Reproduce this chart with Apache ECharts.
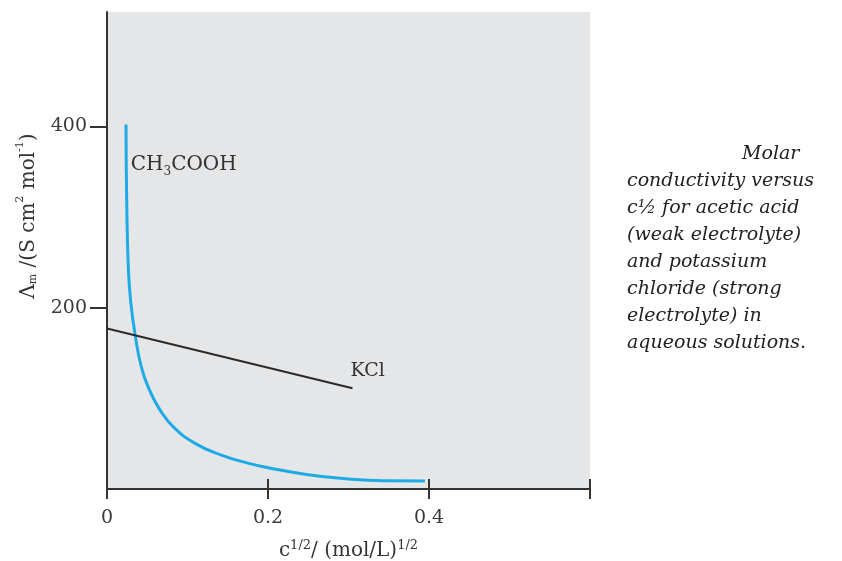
<!DOCTYPE html>
<html><head><meta charset="utf-8">
<script src="https://cdn.jsdelivr.net/npm/echarts@6/dist/echarts.min.js"></script>
<style>html,body{margin:0;padding:0;background:#fff}#c{width:842px;height:561px}</style>
</head><body><div id="c"></div>
<script>
// CH3COOH (weak electrolyte) curve
const acidX = [0.0236, 0.0245, 0.0265, 0.0294, 0.0348, 0.0431, 0.0534, 0.066, 0.083, 0.11, 0.143, 0.175, 0.2, 0.25, 0.30, 0.343, 0.395];
const acidY = [402, 317, 244, 207, 171, 133, 108, 87, 68, 50, 37, 28.5, 23.5, 15.8, 11, 9, 8.8];
// KCl (strong electrolyte) straight line
const kclX = [0, 0.305];
const kclY = [177, 111];
// axis ticks / labels
const xTicks = [0, 0.2, 0.4, 0.6];
const xLabels = [0, 0.2, 0.4];
const yTicks = [200, 400];
const captionLines = ['Molar', 'conductivity versus', 'c\u00BD for acetic acid', '(weak electrolyte)', 'and potassium', 'chloride (strong', 'electrolyte) in', 'aqueous solutions.'];

const serif = '"DejaVu Serif", serif';
const chart = echarts.init(document.getElementById('c'), null, {renderer: 'canvas'});

const captionGraphics = captionLines.map((t, i) => ({
  type: 'text',
  left: i === 0 ? 742 : 627,
  top: 145 + i * 27,
  style: {text: t, font: 'italic 19px "DejaVu Serif", serif', fill: '#222'}
}));

chart.setOption({
  backgroundColor: '#fff',
  animation: false,
  grid: {left: 107, right: 252, top: 12, bottom: 72, show: true, backgroundColor: '#e5e6e8', borderWidth: 0, containLabel: false, outerBoundsMode: 'none'},
  xAxis: [{
    type: 'value', min: 0, max: 0.6, position: 'bottom',
    axisLine: {show: true, onZero: false, lineStyle: {color: '#333', width: 2}},
    axisTick: {show: true, inside: false, length: 10, lineStyle: {color: '#333', width: 2}, customValues: xTicks},
    axisLabel: {show: true, margin: 20, color: '#3a3a3a', fontFamily: serif, fontSize: 19, customValues: xLabels, formatter: v => String(v)},
    splitLine: {show: false},
    name: '{a|c}{s|1/2}{a|/ (mol/L)}{s|1/2}',
    nameLocation: 'middle', nameGap: 50,
    nameTextStyle: {rich: {
      a: {fontFamily: serif, fontSize: 20, color: '#333', lineHeight: 22, verticalAlign: 'bottom'},
      s: {fontFamily: serif, fontSize: 13, color: '#333', lineHeight: 22, verticalAlign: 'top'}
    }}
  }, {
    type: 'value', min: 0, max: 0.6, position: 'bottom',
    axisLine: {show: false},
    axisTick: {show: true, inside: true, length: 10, lineStyle: {color: '#333', width: 2}, customValues: xTicks},
    axisLabel: {show: false},
    splitLine: {show: false}
  }],
  yAxis: {
    type: 'value', min: 0, max: 526, interval: 200,
    axisLine: {show: true, lineStyle: {color: '#333', width: 2}},
    axisTick: {show: true, inside: false, length: 17, lineStyle: {color: '#333', width: 2}, customValues: yTicks},
    axisLabel: {show: true, margin: 20, color: '#3a3a3a', fontFamily: serif, fontSize: 19, customValues: yTicks},
    splitLine: {show: false}
  },
  graphic: [{
    type: 'text', x: 27, y: 216, rotation: Math.PI / 2,
    style: {
      text: '{a|\u039B}{b|m}{a| /(S cm}{s|2}{a| mol}{s|-1}{a|)}',
      align: 'center', verticalAlign: 'middle',
      rich: {
        a: {fontFamily: serif, fontSize: 20, fill: '#333', lineHeight: 24, verticalAlign: 'bottom'},
        b: {fontFamily: serif, fontSize: 11, fill: '#333', lineHeight: 24, verticalAlign: 'bottom'},
        s: {fontFamily: serif, fontSize: 11, fill: '#333', lineHeight: 24, verticalAlign: 'top'}
      }
    }
  }].concat(captionGraphics),
  series: [{
    type: 'line', name: 'CH3COOH', xAxisIndex: 0,
    data: acidX.map((x, i) => [x, acidY[i]]),
    smooth: 0.5, showSymbol: false, symbol: 'none',
    lineStyle: {color: '#1eaae6', width: 3},
    markPoint: {
      symbol: 'circle', symbolSize: 0,
      label: {show: true, position: 'right', distance: 0,
        formatter: '{a|CH}{s|3}{a|COOH}',
        rich: {
          a: {fontFamily: serif, fontSize: 20, color: '#333', lineHeight: 22, verticalAlign: 'bottom'},
          s: {fontFamily: serif, fontSize: 12, color: '#333', lineHeight: 22, verticalAlign: 'bottom', padding: [0, 0, -3, 0]}
        }},
      data: [{coord: [0.0295, 359], value: 'CH3COOH'}]
    }
  }, {
    type: 'line', name: 'KCl', xAxisIndex: 0,
    data: kclX.map((x, i) => [x, kclY[i]]),
    showSymbol: false, symbol: 'none',
    lineStyle: {color: '#2a2a2a', width: 2},
    markPoint: {
      symbol: 'circle', symbolSize: 0,
      label: {show: true, position: 'right', distance: 0, formatter: 'KCl',
        fontFamily: serif, fontSize: 19, color: '#333'},
      data: [{coord: [0.3025, 130], value: 'KCl'}]
    }
  }]
});
</script>
</body></html>
